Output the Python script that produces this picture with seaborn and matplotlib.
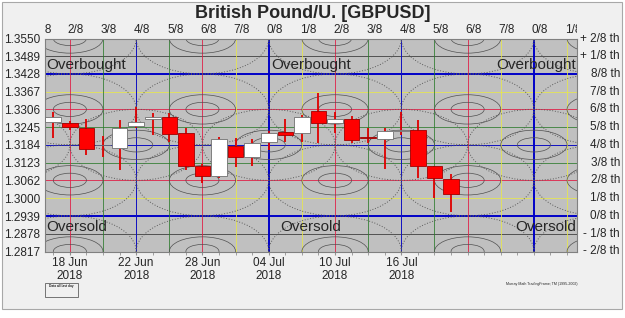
import numpy as np
import pandas as pd
import matplotlib
matplotlib.use('Agg')
import matplotlib.pyplot as plt
import seaborn as sns
from matplotlib.patches import Ellipse, Rectangle
from matplotlib.transforms import Bbox, TransformedBbox

# --- data ---
dates = ['15 Jun', '18 Jun', '19 Jun', '20 Jun', '21 Jun', '22 Jun', '25 Jun', '26 Jun',
         '27 Jun', '28 Jun', '29 Jun', '02 Jul', '03 Jul', '04 Jul', '05 Jul', '06 Jul',
         '09 Jul', '10 Jul', '11 Jul', '12 Jul', '13 Jul', '16 Jul', '17 Jul', '18 Jul', '19 Jul']
opens  = [1.3263, 1.3259, 1.3242, 1.3182, 1.3173, 1.3249, 1.3273, 1.3280, 1.3225, 1.3111,
          1.3077, 1.3180, 1.3142, 1.3194, 1.3228, 1.3225, 1.3301, 1.3259, 1.3273, 1.3211,
          1.3204, 1.3232, 1.3235, 1.3111, 1.3066]
highs  = [1.3297, 1.3266, 1.3273, 1.3215, 1.3270, 1.3314, 1.3294, 1.3294, 1.3242, 1.3118,
          1.3211, 1.3208, 1.3204, 1.3232, 1.3273, 1.3287, 1.3363, 1.3297, 1.3283, 1.3242,
          1.3242, 1.3297, 1.3270, 1.3111, 1.3084]
lows   = [1.3208, 1.3235, 1.3149, 1.3142, 1.3098, 1.3242, 1.3218, 1.3194, 1.3098, 1.3053,
          1.3070, 1.3108, 1.3111, 1.3166, 1.3194, 1.3194, 1.3190, 1.3225, 1.3190, 1.3190,
          1.3101, 1.3218, 1.3070, 1.3001, 1.2953]
closes = [1.3280, 1.3245, 1.3170, 1.3184, 1.3242, 1.3263, 1.3280, 1.3221, 1.3111, 1.3077,
          1.3204, 1.3142, 1.3190, 1.3225, 1.3218, 1.3280, 1.3259, 1.3273, 1.3201, 1.3208,
          1.3232, 1.3235, 1.3111, 1.3070, 1.3015]

# Murrey price levels (bottom -> top)
level_values = [1.2817, 1.2878, 1.2939, 1.3000, 1.3062, 1.3123, 1.3184,
                1.3245, 1.3306, 1.3367, 1.3428, 1.3489, 1.3550]
level_names = ['- 2/8 th', '- 1/8 th', '0/8 th', '1/8 th', '2/8 th', '3/8 th', '4/8 th',
               '5/8 th', '6/8 th', '7/8 th', '8/8 th', '+ 1/8 th', '+ 2/8 th']

# Murrey time lines (every 2 trading days) and date ticks
time_fracs = ['1/8', '2/8', '3/8', '4/8', '5/8', '6/8', '7/8', '0/8', '1/8',
              '2/8', '3/8', '4/8', '5/8', '6/8', '7/8', '0/8', '1/8']
date_ticks = ['18 Jun\n2018', '22 Jun\n2018', '28 Jun\n2018',
              '04 Jul\n2018', '10 Jul\n2018', '16 Jul\n2018']

df = pd.DataFrame({'date': dates, 'open': opens, 'high': highs, 'low': lows, 'close': closes})
df['day'] = np.arange(len(df))
df['up'] = df['close'] >= df['open']

sns.set_style('white')
plt.rcParams['font.family'] = ['Liberation Sans', 'DejaVu Sans']

fig = plt.figure(figsize=(6.25, 3.18), dpi=100, facecolor='white')
fig.patches.append(Rectangle((0.003, 1 - 309 / 318), 0.992, 309 / 318 - 0.006,
                             transform=fig.transFigure, facecolor='#f0f0f0',
                             edgecolor='#a8a8a8', lw=0.8, zorder=-10))
ax = fig.add_axes([45 / 625, 1 - 251.5 / 318, 532 / 625, 213 / 318])
ax.set_facecolor('#c0c0c0')
ax.set_xlim(-0.5, 31.6)
ax.set_ylim(level_values[0], level_values[-1])

line_style = {'0/8': ('#0000c8', 1.4), '1/8': ('#e8e84a', 0.55), '2/8': ('#e02048', 0.6),
              '3/8': ('#2a7a2a', 0.55), '4/8': ('#1010c0', 0.7), '5/8': ('#2a7a2a', 0.55),
              '6/8': ('#e02048', 0.6), '7/8': ('#e8e84a', 0.55), '8/8': ('#0000c8', 1.4),
              '+ 1/8': ('#404040', 0.6), '- 1/8': ('#404040', 0.6)}

# horizontal Murrey lines
for v, name in zip(level_values[1:-1], level_names[1:-1]):
    c, lw = line_style[name.replace(' th', '')]
    ax.axhline(v, color=c, lw=lw, zorder=1)

# vertical time lines + top labels
time_days = np.arange(-1, 32, 2)
clip = TransformedBbox(Bbox([[0, 0], [1, 1.3]]), ax.transAxes)
for d, frac in zip(time_days, time_fracs):
    c, lw = line_style[frac]
    ax.axvline(d, color=c, lw=lw, zorder=1)
    t = ax.text(d - 0.12, 1.012, frac, transform=ax.get_xaxis_transform(),
                ha='left', va='bottom', fontsize=8.5, clip_on=True)
    t.set_clip_box(clip)

# ellipses (Murrey octave circles)
step = (level_values[10] - level_values[2]) / 8
red_days = [1, 9, 17, 25, 33]
blue_days = [-3, 5, 13, 21, 29]
centers = [(d, level_values[i]) for d in red_days for i in (0, 4, 8, 12)]
centers += [(d, level_values[6]) for d in blue_days]
for cx, cy in centers:
    ax.add_patch(Ellipse((cx, cy), 2, 0.8 * step, fill=False, ec='#505050', lw=0.5, zorder=2))
    ax.add_patch(Ellipse((cx, cy), 4, 1.65 * step, fill=False, ec='#505050', lw=0.5, zorder=2))
    ax.add_patch(Ellipse((cx, cy), 8, 4 * step, fill=False, ec='#5a5a5a', lw=0.7,
                         ls=(0, (1, 1.8)), zorder=2))

# candles
ax.vlines(df['day'], df['low'], df['high'], color='#e00000', lw=1.3, zorder=3)
body_lo = df[['open', 'close']].min(axis=1)
body_h = (df['close'] - df['open']).abs().clip(lower=0.00012)
face = np.where(df['up'], 'white', '#ff0000')
edge = np.where(df['up'], '#707070', '#a00000')
ax.bar(df['day'], body_h, bottom=body_lo, width=0.94, color=face, edgecolor=edge,
       lw=0.6, zorder=4)

# Overbought / Oversold labels
ob_y = level_values[-1] - 30 * (level_values[-1] - level_values[0]) / 213
os_y = level_values[-1] - 192.5 * (level_values[-1] - level_values[0]) / 213
for x, ha in [(0.003, 'left'), (0.5, 'center'), (0.999, 'right')]:
    ax.text(x, ob_y, 'Overbought', transform=ax.get_yaxis_transform(), ha=ha,
            va='baseline', fontsize=11, zorder=5)
    ax.text(x, os_y, 'Oversold', transform=ax.get_yaxis_transform(), ha=ha,
            va='baseline', fontsize=11, zorder=5)

# axes ticks
ax.set_yticks(level_values)
ax.set_yticklabels([f'{v:.4f}' for v in level_values], fontsize=8.5)
ax.tick_params(axis='y', length=0, pad=3.5)
ax.set_xticks([1, 5, 9, 13, 17, 21])
ax.set_xticklabels(date_ticks, fontsize=8.5, linespacing=1.05)
ax.set_xticks(np.arange(0, 32), minor=True)
ax.tick_params(axis='x', which='both', length=2, color='#909090', pad=2, bottom=True)
for name, v in zip(level_names, level_values):
    ax.text(1.0808, v, name, transform=ax.get_yaxis_transform(), ha='right',
            va='center', fontsize=8.5)
for s in ax.spines.values():
    s.set_color('#808080')
    s.set_linewidth(0.8)

fig.text(0.5, 1 - 14 / 318, 'British Pound/U. [GBPUSD]', ha='center', va='center',
         fontsize=13, fontweight='bold')

# footer
fig.patches.append(Rectangle((45 / 625, 1 - 297 / 318), 33 / 625, 14 / 318,
                             transform=fig.transFigure, fill=False, ec='#606060', lw=0.6))
fig.text(61.5 / 625, 1 - 286 / 318, 'Data all last day', ha='center', va='center',
         fontsize=2.3, fontweight='bold')
fig.text(577 / 625, 1 - 284 / 318, 'Murray Math TradingFrame; TM (1995-2002)', ha='right',
         va='center', fontsize=2.6)

fig.savefig('out.png', dpi=100, facecolor=fig.get_facecolor())
